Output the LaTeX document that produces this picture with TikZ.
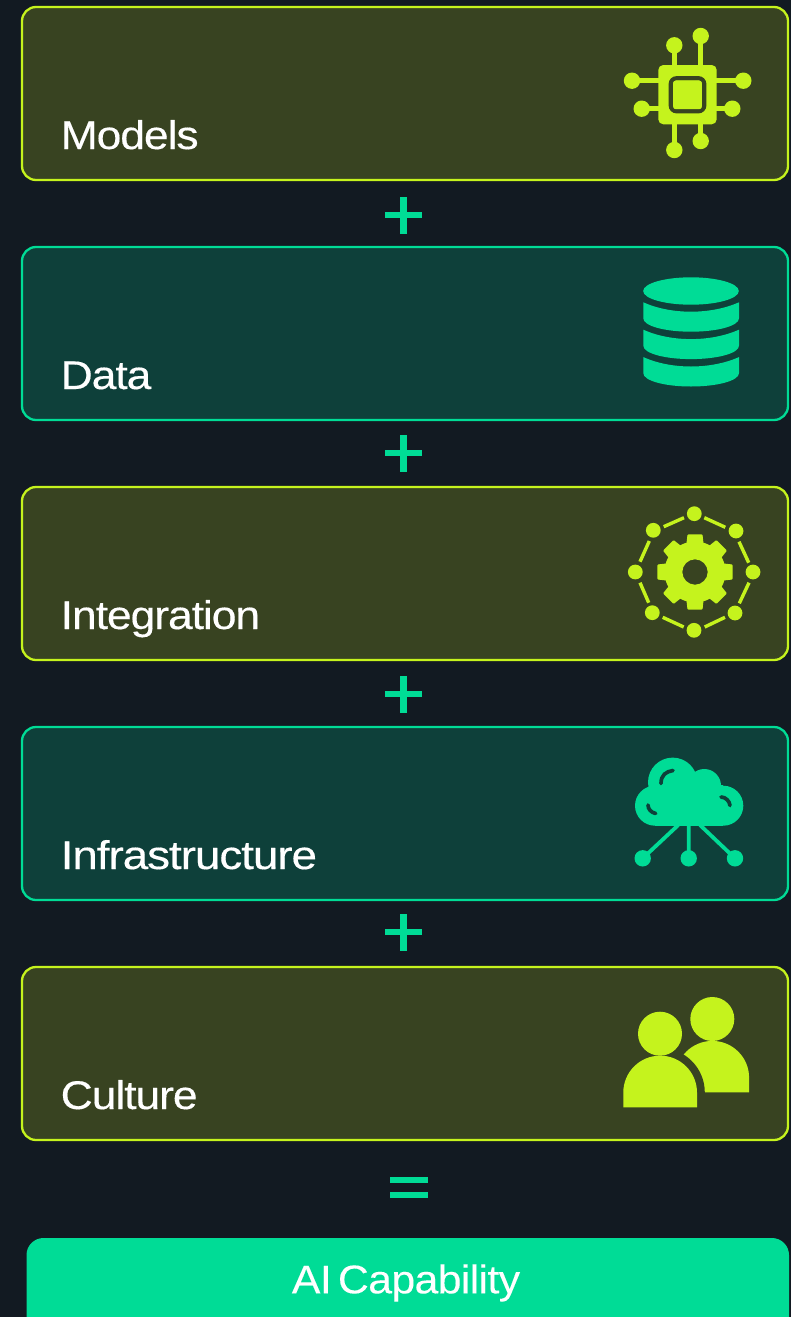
\documentclass[tikz,border=0pt]{standalone}
\usepackage{fontspec}
\setmainfont{Liberation Sans}
\newfontfamily\labelfont[LetterSpace=-2.6,FakeStretch=1.11,FakeBold=0.35]{Liberation Sans}
\newfontfamily\widelabelfont[LetterSpace=-2.6,FakeStretch=1.145,FakeBold=0.35]{Liberation Sans}
\newfontfamily\resultfont[LetterSpace=-1.6,FakeStretch=1.07,FakeBold=0.1]{Liberation Sans}
\definecolor{bgdark}{HTML}{121A22}
\definecolor{olive}{HTML}{384321}
\definecolor{tealdk}{HTML}{0E403A}
\definecolor{lime}{HTML}{C5F31D}
\definecolor{mint}{HTML}{00DC96}
\tikzset{
  panel/.style={draw=#1,line width=2.3pt,rounded corners=14pt,minimum width=766pt,minimum height=173pt,inner sep=0pt,outer sep=0pt,anchor=center},
  olivepanel/.style={panel=lime,fill=olive},
  tealpanel/.style={panel=mint,fill=tealdk},
  paneltext/.style={text=white,font=\labelfont\fontsize{40}{40}\selectfont,anchor=base west,inner sep=0pt},
  plusbar/.style={fill=mint},
}
\newcommand{\plussign}[2]{\fill[plusbar] (#1-18.5,-#2-3.4) rectangle (#1+18.5,-#2+3.4);\fill[plusbar] (#1-3.4,-#2-18.5) rectangle (#1+3.4,-#2+18.5);}
\begin{document}
\begin{tikzpicture}[x=1pt,y=1pt]
\useasboundingbox (0,0) rectangle (791,-1317);
\fill[bgdark] (0,0) rectangle (791,-1317);
% panels
\node[olivepanel] (models) at (405,-93.5) {};
\node[tealpanel] (data) at (405,-333.5) {};
\node[olivepanel] (integration) at (405,-573.5) {};
\node[tealpanel] (infra) at (405,-813.5) {};
\node[olivepanel] (culture) at (405,-1053.5) {};
\node[paneltext] (tmodels) at (60.5,-149) {Models};
\node[paneltext] (tdata) at (60.5,-389) {Data};
\node[paneltext] (tintegration) at (60.5,-629) {Integration};
\node[paneltext,font=\widelabelfont\fontsize{40}{40}\selectfont] (tinfra) at (60.5,-869) {Infrastructure};
\node[paneltext] (tculture) at (60.5,-1109) {Culture};
% operators
\plussign{403.5}{215}
\plussign{403.5}{453}
\plussign{403.5}{694}
\plussign{403.5}{932}
\fill[mint] (390.4,-1177.3) rectangle (427.5,-1183.3);
\fill[mint] (390.4,-1192) rectangle (427.5,-1198.3);
% result
\fill[mint,rounded corners=17pt] (26.5,-1238) rectangle (789,-1340);
\node[text=white,font=\resultfont\fontsize{40}{40}\selectfont,anchor=base,inner sep=0pt] (result) at (406,-1293.3) {AI\hspace{-5pt} Capability};
% chip icon
\begin{scope}[lime]
\draw[line width=4.7pt] (674.3,-45.3) -- (674.3,-70) (700.7,-36) -- (700.7,-70)
  (632,-80.7) -- (665,-80.7) (641.7,-108.7) -- (665,-108.7)
  (743.3,-80.7) -- (710,-80.7) (732.3,-108.7) -- (710,-108.7)
  (674.3,-150) -- (674.3,-120) (700.7,-141) -- (700.7,-120);
\foreach \px/\py in {674.3/45.3,700.7/36,632/80.7,641.7/108.7,743.3/80.7,732.3/108.7,674.3/150,700.7/141}
  \fill (\px,-\py) circle[radius=8.2];
\fill[rounded corners=5pt] (658.3,-65) rectangle (716.7,-124.3);
\draw[olive,line width=4.2pt,rounded corners=6pt] (670.7,-78.2) rectangle (704.3,-111.3);
\fill[rounded corners=2pt] (673.3,-80.7) rectangle (701.7,-109);
\end{scope}
% database icon
\begin{scope}[mint]
\fill (691,-291) ellipse[x radius=47.8,y radius=13.7];
\foreach \dy in {0,27.4,54.8}{
  \fill (643.3,-302.3-\dy) .. controls (657,-308.5-\dy) and (674,-311.7-\dy) .. (691,-311.7-\dy)
    .. controls (708,-311.7-\dy) and (725,-308.5-\dy) .. (739,-302.3-\dy)
    -- (739,-318.3-\dy) .. controls (739,-326-\dy) and (717,-331.7-\dy) .. (691,-331.7-\dy)
    .. controls (665,-331.7-\dy) and (643.3,-326-\dy) .. (643.3,-318.3-\dy) -- cycle;
}
\end{scope}
% gear icon
\begin{scope}[lime]
\fill[even odd rule] (695,-572) circle[radius=30.5] (695,-572) circle[radius=12.7];
\begin{scope}[shift={(695,-572)}]
\foreach \a in {0,45,...,315}
  \fill[rotate=\a,rounded corners=1pt] (24,-9) -- (37.7,-7.5) -- (37.7,7.5) -- (24,9) -- cycle;
\end{scope}
\foreach \px/\py in {694.3/513.7,736/531,753/572,735/613,694/630.3,652.3/612.7,635.3/572,653.3/530.3}
  \fill (\px,-\py) circle[radius=7.4];
\draw[line width=3.4pt]
  (663.7,-526.7) -- (684,-517.7) (704.3,-517.7) -- (725.3,-527.3)
  (739,-541.7) -- (748.7,-562.7) (749,-582.7) -- (739.3,-603.3)
  (725,-617.3) -- (704.7,-627) (683.7,-627) -- (662.7,-617.3)
  (648.7,-602.7) -- (640,-582.7) (640,-561.7) -- (649.3,-541);
\end{scope}
% cloud icon
\begin{scope}[mint]
\fill (655,-805.7) circle[radius=20];
\fill (672.7,-782.3) circle[radius=24.7];
\fill (704.3,-785.7) circle[radius=16.7];
\fill (723.3,-805.7) circle[radius=20];
\fill (655,-785) rectangle (723.3,-825.7);
\draw[line width=3.8pt] (678.3,-825) -- (642.7,-858.3) (688.7,-825) -- (688.7,-858) (700,-825) -- (735,-858.3);
\foreach \px in {642.7,688.7,735} \fill (\px,-858.3) circle[radius=8.2];
\draw[tealdk,line width=3.7pt,line cap=round]
  (661,-783.5) .. controls (661,-775) and (666,-771.5) .. (673,-770.5)
  (648,-805) .. controls (648,-809) and (651,-812.5) .. (655.7,-813.5)
  (721,-797) .. controls (725.5,-797) and (729.5,-801) .. (730,-805.5);
\end{scope}
% people icon
\begin{scope}[lime]
\fill (712.3,-1019) circle[radius=22];
\fill (675.5,-1092.3) -- (675.5,-1077.7) arc[start angle=180,end angle=0,radius=36.8] -- (749,-1092.3) -- cycle;
\fill[olive] (660.2,-1092.5) circle[radius=44.6];
\fill (660,-1033.7) circle[radius=22];
\fill (623.3,-1107.3) -- (623.3,-1092.5) arc[start angle=180,end angle=0,radius=36.85] -- (697,-1107.3) -- cycle;
\end{scope}
\end{tikzpicture}
\end{document}
